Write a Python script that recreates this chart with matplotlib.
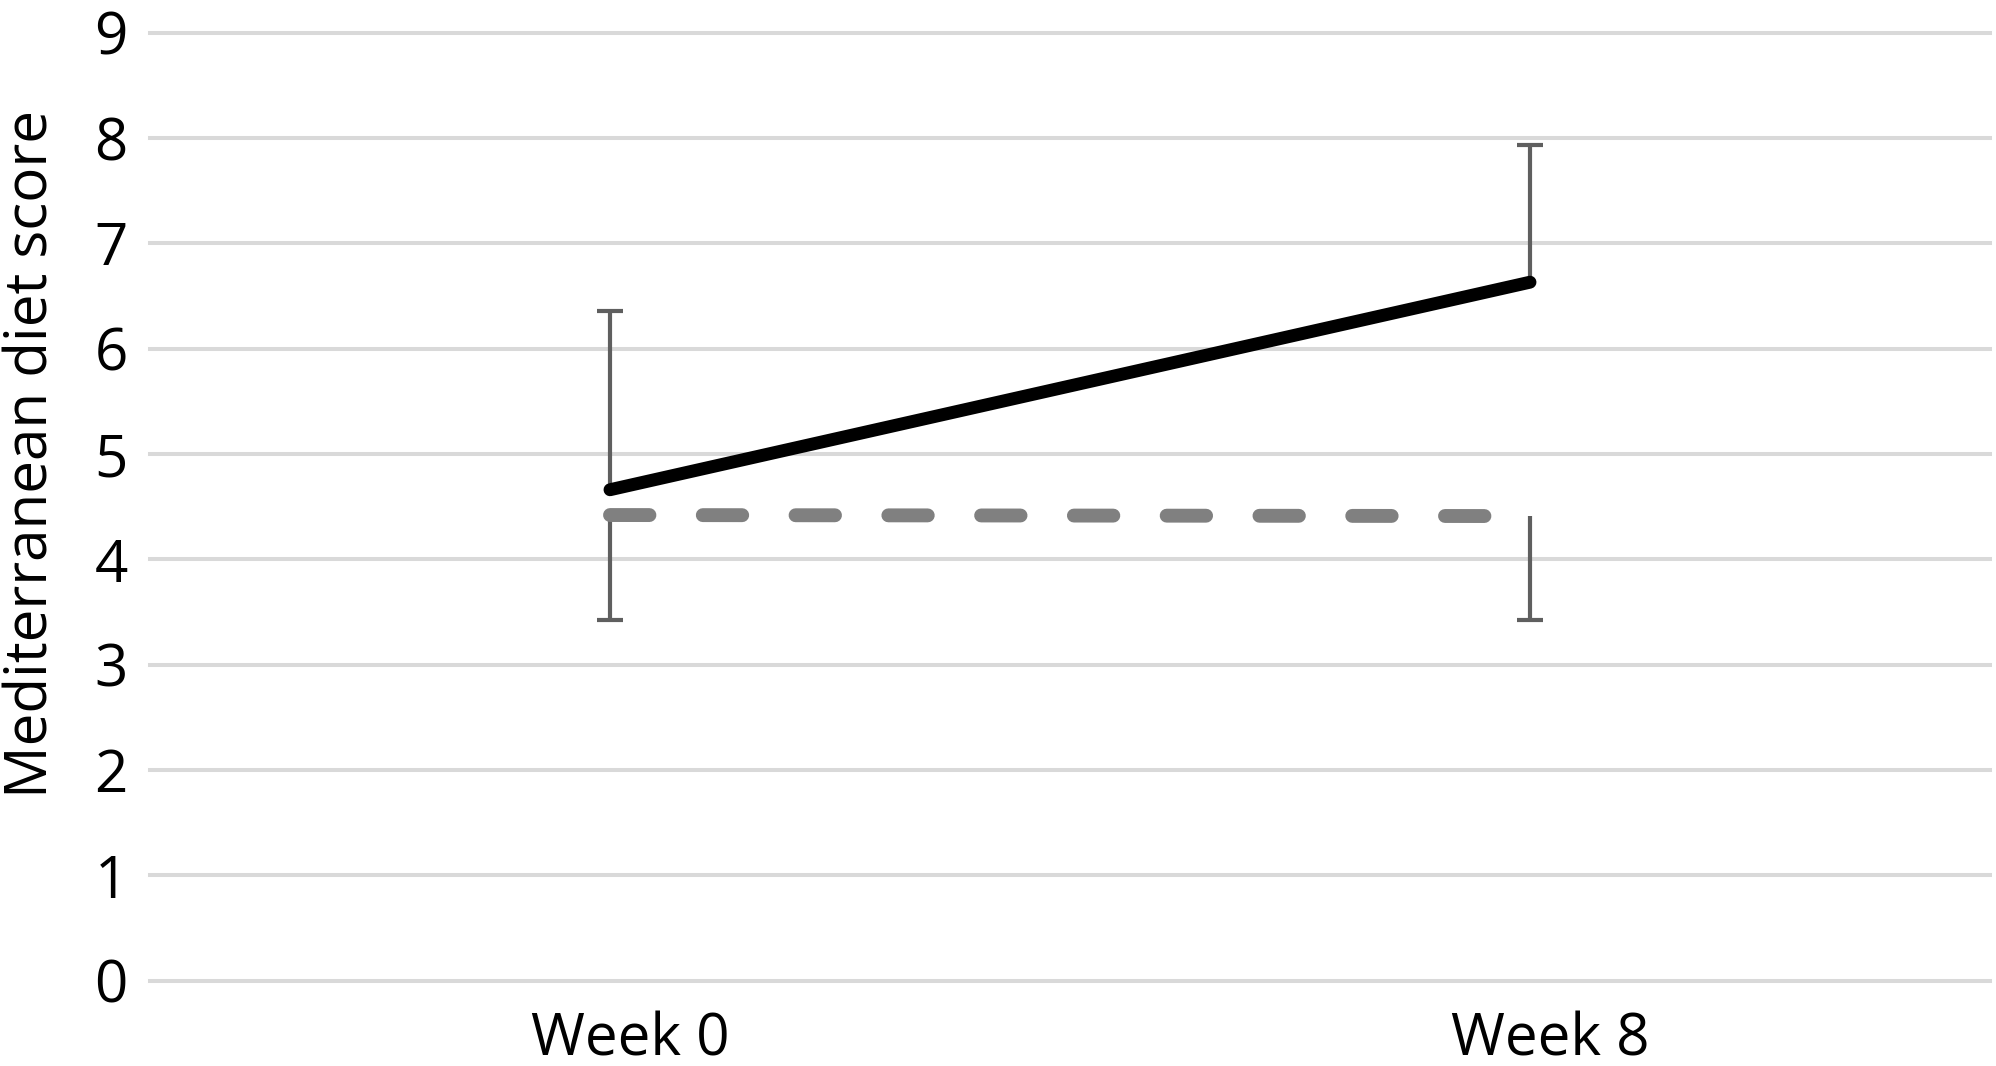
import matplotlib
matplotlib.use("Agg")
import matplotlib.pyplot as plt
from matplotlib.transforms import ScaledTranslation

categories = ["Week 0", "Week 8"]
intervention = [4.66, 6.63]
intervention_sd = [1.70, 1.30]
control = [4.42, 4.41]
control_sd = [1.00, 0.99]
yticks = [0, 1, 2, 3, 4, 5, 6, 7, 8, 9]
ylabel = "Mediterranean diet score"

plt.rcParams['font.family'] = ['Open Sans', 'DejaVu Sans']

W, H = 1996, 1066
fig = plt.figure(figsize=(W / 100, H / 100), dpi=100)
ax = fig.add_axes([150 / W, (H - 980.7) / H, (1990 - 150) / W, (980.7 - 32.5) / H])

x = list(range(len(categories)))
err_col = '#5f5f5f'

# error bars: intervention upward only, control downward only
eb1 = ax.errorbar(x, intervention, yerr=[[0] * len(x), intervention_sd], fmt='none',
                  ecolor=err_col, elinewidth=3.0, capsize=9.7, capthick=3.0, zorder=2)
eb2 = ax.errorbar(x, control, yerr=[control_sd, [0] * len(x)], fmt='none',
                  ecolor=err_col, elinewidth=3.0, capsize=9.7, capthick=3.0, zorder=2)
# hide the caps that sit on the data points (zero-length side)
eb1[1][0].set_visible(False)
eb2[1][1].set_visible(False)

ax.plot(x, control, color='#808080', lw=10, dashes=(2.84, 3.84),
        dash_capstyle='round', solid_capstyle='round', zorder=3)
ax.plot(x, intervention, color='black', lw=9.3, solid_capstyle='round', zorder=4)

ax.set_xlim(-0.5, len(categories) - 0.5)
ax.set_ylim(0, 9)
ax.set_yticks(yticks)
ax.set_xticks(x)
ax.set_xticklabels(categories)
for s in ax.spines.values():
    s.set_visible(False)
ax.tick_params(axis='both', length=0, labelsize=42, colors='black')
ax.tick_params(axis='y', pad=16)
ax.tick_params(axis='x', pad=22)
ax.yaxis.grid(True, color='#d9d9d9', lw=2.9)
ax.set_axisbelow(True)
for gl in ax.get_ygridlines():
    gl.set_clip_on(False)

off = ScaledTranslation(20 / 100, 0, fig.dpi_scale_trans)
for lab in ax.get_xticklabels():
    lab.set_transform(lab.get_transform() + off)

fig.text(32 / W, 1 - 454 / H, ylabel, rotation=90, ha='center', va='center',
         fontsize=42, color='black')

fig.savefig('out.png', dpi=100, facecolor='white')
